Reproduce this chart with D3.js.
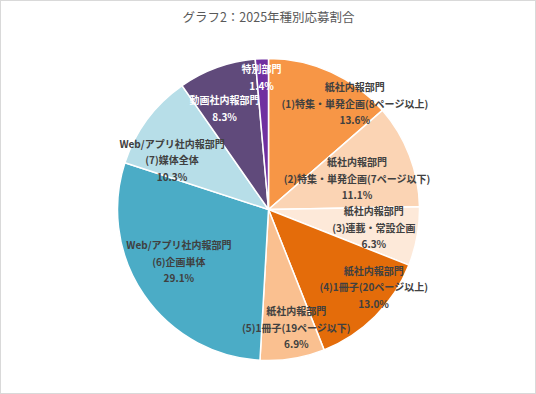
<!DOCTYPE html>
<html><head><meta charset="utf-8">
<script src="https://cdn.jsdelivr.net/npm/d3@7"></script>
<style>
html,body{margin:0;padding:0;background:#fff;}
svg{display:block;}
text{font-family:"Noto Sans CJK JP","Noto Sans",sans-serif;}
</style></head><body>
<script>
const categories = [
  ["紙社内報部門","(1)特集・単発企画(8ページ以上)"],
  ["紙社内報部門","(2)特集・単発企画(7ページ以下)"],
  ["紙社内報部門","(3)連載・常設企画"],
  ["紙社内報部門","(4)1冊子(20ページ以上)"],
  ["紙社内報部門","(5)1冊子(19ページ以下)"],
  ["Web/アプリ社内報部門","(6)企画単体"],
  ["Web/アプリ社内報部門","(7)媒体全体"],
  ["動画社内報部門"],
  ["特別部門"]
];
const values = [13.6, 11.1, 6.3, 13.0, 6.9, 29.1, 10.3, 8.3, 1.4];
const colors = ["#F79646","#FBD4B4","#FDE9D9","#E46C0A","#FAC090","#4BACC6","#B7DEE8","#604A7B","#7030A0"];
const labelColors = ["#404040","#404040","#404040","#404040","#404040","#404040","#404040","#ffffff","#ffffff"];
// label placement: radius (px) and angle (deg, clockwise from top)
const labelRadius = [136, 93.6, 107, 131, 122, 104, 108, 109.7, 131.7];
const labelAngle  = [39.4, 71, 100, 126.6, 166.8, 239.5, 296.7, 336.4, 357];
const title = "グラフ2：2025年種別応募割合";

const W = 536, H = 394, cx = 268.5, cy = 209.5, R = 151;
const svg = d3.select("body").append("svg").attr("width", W).attr("height", H);
svg.append("rect").attr("x",0.5).attr("y",0.5).attr("width",W-1).attr("height",H-1)
  .attr("fill","#fff").attr("stroke","#D9D9D9");
svg.append("text").attr("x", cx).attr("y", 22).attr("text-anchor","middle")
  .attr("font-size", 12.5).attr("fill","#595959").text(title);

const pie = d3.pie().sort(null).value(d => d);
const arcs = pie(values);
const arc = d3.arc().innerRadius(0).outerRadius(R);
const g = svg.append("g").attr("transform", `translate(${cx},${cy})`);
g.selectAll("path").data(arcs).join("path")
  .attr("d", arc).attr("fill", (d,i) => colors[i])
  .attr("stroke","#fff").attr("stroke-width",1.5);

const lh = 16.5;
arcs.forEach((d,i) => {
  const a = labelAngle[i] * Math.PI/180;
  const x = labelRadius[i] * Math.sin(a), y = -labelRadius[i] * Math.cos(a);
  const lines = categories[i].concat([d3.format(".1f")(values[i]) + "%"]);
  const t = g.append("text").attr("text-anchor","middle")
    .attr("font-size", 10).attr("font-weight","bold").attr("fill", labelColors[i]);
  lines.forEach((ln, k) => {
    t.append("tspan").attr("x", x)
      .attr("y", y + (k - (lines.length-1)/2) * lh + 3.5).text(ln);
  });
});
</script>
</body></html>
